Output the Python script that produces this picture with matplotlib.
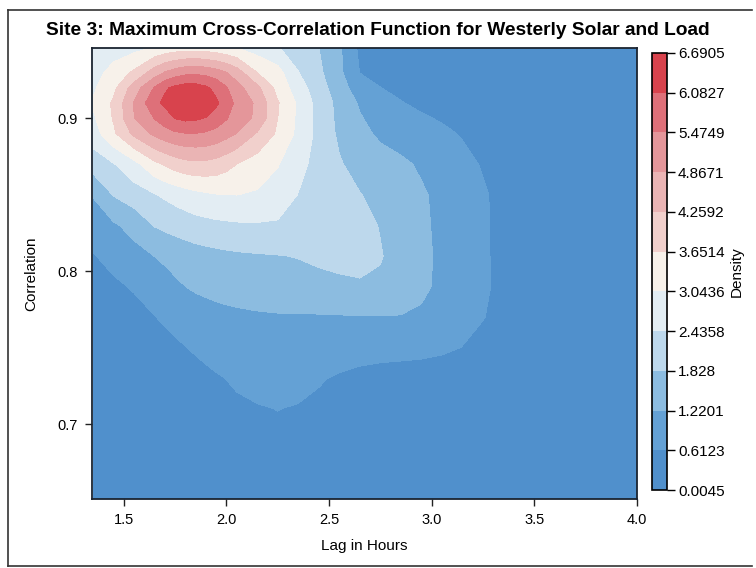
import numpy as np
import matplotlib
matplotlib.use('Agg')
import matplotlib.pyplot as plt
from matplotlib.lines import Line2D

plt.rcParams['font.family'] = ['Liberation Sans', 'DejaVu Sans']

# grid of the density estimate
lag_hours = [1.35, 1.45, 1.55, 1.65, 1.70, 1.75, 1.80, 1.85, 1.90, 1.95, 2.00, 2.05, 2.15,
             2.25, 2.35, 2.45, 2.55, 2.65, 2.75, 2.85, 2.95, 3.05, 3.15, 3.25, 3.35, 3.45,
             3.6, 3.8, 4.0]
correlation = [0.65, 0.67, 0.69, 0.71, 0.73, 0.75, 0.77, 0.79, 0.81, 0.83, 0.85, 0.87,
               0.89, 0.90, 0.91, 0.92, 0.93, 0.95]
density = [
    [0.02, 0.03, 0.05, 0.08, 0.10, 0.12, 0.145, 0.17, 0.195, 0.22, 0.245, 0.27, 0.30, 0.31, 0.29, 0.25, 0.21, 0.17, 0.13, 0.10, 0.08, 0.06, 0.05, 0.04, 0.03, 0.02, 0.01, 0.005, 0.005],
    [0.03, 0.05, 0.08, 0.12, 0.145, 0.17, 0.20, 0.23, 0.265, 0.30, 0.33, 0.36, 0.40, 0.42, 0.39, 0.34, 0.28, 0.23, 0.18, 0.15, 0.12, 0.10, 0.08, 0.06, 0.04, 0.03, 0.02, 0.01, 0.005],
    [0.04, 0.06, 0.10, 0.15, 0.18, 0.21, 0.25, 0.29, 0.33, 0.37, 0.405, 0.44, 0.50, 0.52, 0.48, 0.42, 0.35, 0.29, 0.24, 0.20, 0.17, 0.14, 0.11, 0.08, 0.06, 0.04, 0.02, 0.01, 0.005],
    [0.05, 0.08, 0.12, 0.18, 0.22, 0.26, 0.31, 0.36, 0.405, 0.45, 0.49, 0.53, 0.58, 0.62, 0.58, 0.50, 0.42, 0.35, 0.30, 0.26, 0.22, 0.18, 0.14, 0.11, 0.08, 0.05, 0.03, 0.015, 0.01],
    [0.06, 0.09, 0.14, 0.21, 0.255, 0.30, 0.36, 0.42, 0.49, 0.56, 0.62, 0.68, 0.77, 0.80, 0.76, 0.66, 0.55, 0.45, 0.38, 0.33, 0.30, 0.27, 0.23, 0.18, 0.13, 0.09, 0.05, 0.02, 0.01],
    [0.10, 0.15, 0.23, 0.35, 0.43, 0.52, 0.60, 0.68, 0.76, 0.84, 0.90, 0.96, 1.03, 1.05, 1.02, 0.96, 0.90, 0.86, 0.84, 0.83, 0.80, 0.72, 0.60, 0.47, 0.34, 0.23, 0.12, 0.05, 0.02],
    [0.20, 0.30, 0.44, 0.60, 0.69, 0.78, 0.86, 0.93, 0.99, 1.04, 1.08, 1.11, 1.15, 1.17, 1.17, 1.17, 1.18, 1.20, 1.20, 1.19, 1.12, 0.96, 0.79, 0.63, 0.46, 0.31, 0.16, 0.06, 0.02],
    [0.38, 0.52, 0.66, 0.86, 0.99, 1.12, 1.22, 1.30, 1.35, 1.40, 1.43, 1.46, 1.50, 1.55, 1.62, 1.68, 1.72, 1.77, 1.75, 1.60, 1.35, 1.08, 0.88, 0.68, 0.50, 0.34, 0.18, 0.07, 0.03],
    [0.58, 0.78, 1.02, 1.23, 1.33, 1.42, 1.50, 1.58, 1.63, 1.67, 1.71, 1.74, 1.78, 1.81, 1.85, 1.92, 1.98, 1.98, 1.86, 1.62, 1.34, 1.12, 0.92, 0.68, 0.48, 0.33, 0.18, 0.07, 0.03],
    [0.95, 1.14, 1.42, 1.86, 1.96, 2.05, 2.13, 2.20, 2.25, 2.30, 2.33, 2.36, 2.38, 2.36, 2.30, 2.22, 2.12, 2.00, 1.80, 1.55, 1.30, 1.12, 0.92, 0.68, 0.48, 0.32, 0.17, 0.07, 0.03],
    [1.25, 1.86, 2.15, 2.40, 2.53, 2.65, 2.77, 2.88, 2.96, 3.02, 3.04, 3.05, 2.98, 2.78, 2.42, 2.20, 2.02, 1.85, 1.65, 1.48, 1.28, 1.10, 0.90, 0.67, 0.46, 0.30, 0.15, 0.06, 0.02],
    [2.10, 2.40, 2.85, 3.50, 3.72, 3.92, 4.06, 4.12, 4.10, 4.02, 3.85, 3.65, 3.35, 3.08, 2.60, 2.25, 1.88, 1.62, 1.45, 1.32, 1.15, 0.95, 0.76, 0.57, 0.40, 0.26, 0.13, 0.05, 0.02],
    [2.75, 3.55, 4.40, 5.00, 5.22, 5.38, 5.45, 5.46, 5.40, 5.28, 5.08, 4.85, 4.20, 3.55, 2.90, 2.25, 1.72, 1.38, 1.12, 0.98, 0.86, 0.72, 0.57, 0.42, 0.30, 0.20, 0.10, 0.04, 0.015],
    [2.95, 3.70, 4.85, 5.50, 5.80, 6.10, 6.22, 6.18, 6.05, 5.80, 5.52, 5.18, 4.75, 3.65, 2.92, 2.22, 1.68, 1.27, 0.98, 0.81, 0.68, 0.56, 0.44, 0.32, 0.23, 0.15, 0.08, 0.03, 0.012],
    [3.10, 3.75, 4.90, 5.95, 6.20, 6.48, 6.66, 6.64, 6.48, 6.18, 5.80, 5.32, 4.75, 3.70, 2.95, 2.20, 1.65, 1.15, 0.85, 0.64, 0.50, 0.40, 0.31, 0.23, 0.16, 0.11, 0.06, 0.025, 0.01],
    [2.95, 3.50, 4.55, 5.52, 6.00, 6.22, 6.36, 6.34, 6.18, 5.92, 5.52, 5.10, 4.40, 3.45, 2.72, 2.08, 1.50, 0.88, 0.62, 0.48, 0.38, 0.30, 0.23, 0.17, 0.12, 0.085, 0.045, 0.02, 0.01],
    [2.75, 3.30, 3.75, 4.55, 4.90, 5.15, 5.30, 5.35, 5.28, 5.12, 4.88, 4.55, 3.65, 3.25, 2.45, 1.95, 1.35, 0.60, 0.42, 0.32, 0.25, 0.19, 0.15, 0.11, 0.08, 0.06, 0.03, 0.015, 0.01],
    [2.45, 2.55, 2.65, 2.78, 2.85, 2.90, 2.93, 2.93, 2.90, 2.84, 2.77, 2.70, 2.55, 2.35, 2.15, 1.80, 1.30, 0.45, 0.30, 0.22, 0.17, 0.13, 0.10, 0.08, 0.06, 0.04, 0.02, 0.01, 0.005],
]

density_ticks = ['0.0045', '0.6123', '1.2201', '1.828', '2.4358', '3.0436',
                 '3.6514', '4.2592', '4.8671', '5.4749', '6.0827', '6.6905']
x_ticks = [1.5, 2.0, 2.5, 3.0, 3.5, 4.0]
y_ticks = [0.7, 0.8, 0.9]

band_colors = ['#5090cc', '#64a1d5', '#8cbce0', '#bdd8ec', '#e3edf3', '#f7f1ea',
               '#f1d0cc', '#eab4b4', '#e4969a', '#de7079', '#d8434d']

levels = [float(t) for t in density_ticks]

fig = plt.figure(figsize=(7.56, 5.68), dpi=100)
ax = fig.add_axes([0.1217, 0.1215, 0.7209, 0.794])
cs = ax.contourf(lag_hours, correlation, np.array(density), levels=levels, colors=band_colors)

ax.set_xlim(1.345, 4.0)
ax.set_ylim(0.651, 0.946)
ax.set_xticks(x_ticks)
ax.set_xticklabels(['1.5', '2.0', '2.5', '3.0', '3.5', '4.0'])
ax.set_yticks(y_ticks)
ax.set_yticklabels(['0.7', '0.8', '0.9'])
ax.tick_params(direction='out', length=5, width=1, labelsize=10.5, pad=5, color='#222222')
for s in ax.spines.values():
    s.set_linewidth(1.3)
    s.set_color('#1a2430')

ax.set_xlabel('Lag in Hours', fontsize=11, labelpad=9)
ax.set_ylabel('Correlation', fontsize=11, labelpad=14)

fig.text(0.5, 0.947, 'Site 3: Maximum Cross-Correlation Function for Westerly Solar and Load',
         ha='center', va='center', fontsize=13.8, fontweight='bold')

cax = fig.add_axes([0.8624, 0.1373, 0.0198, 0.7694])
cb = fig.colorbar(cs, cax=cax, ticks=levels)
cb.ax.set_yticklabels(density_ticks)
cb.ax.tick_params(direction='out', length=6, width=1, labelsize=11, pad=2)
cb.outline.set_linewidth(1.2)
cb.set_label('Density', fontsize=11, labelpad=4)

# frame round the whole picture
for xs, ys in [([0.011, 0.011], [0.004, 0.982]), ([0.011, 0.995], [0.982, 0.982]),
               ([0.011, 0.995], [0.004, 0.004])]:
    fig.add_artist(Line2D(xs, ys, transform=fig.transFigure, color='#333333', lw=1.2))

fig.savefig('out.png', dpi=100)
